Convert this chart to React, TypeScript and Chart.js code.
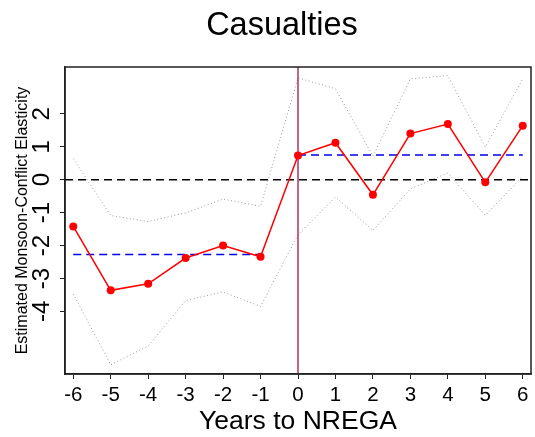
import React, { useEffect, useRef } from "react";
import { Chart, registerables } from "chart.js";

Chart.register(...registerables);

// event-study estimates, years relative to NREGA rollout
const years = [-6, -5, -4, -3, -2, -1, 0, 1, 2, 3, 4, 5, 6];
const estimates = [-1.42, -3.36, -3.16, -2.38, -2.0, -2.34, 0.73, 1.12, -0.46, 1.4, 1.69, -0.08, 1.64];
const upperCI = [0.64, -1.09, -1.27, -1.01, -0.59, -0.81, 3.09, 2.76, 0.71, 3.06, 3.16, 0.99, 3.06];
const lowerCI = [-3.47, -5.62, -5.05, -3.67, -3.41, -3.85, -1.67, -0.53, -1.54, -0.28, 0.2, -1.08, 0.1];

// average effect before / after
const preYears = [-6, -1];
const preMean = -2.27;
const postYears = [0, 6];
const postMean = 0.75;

const xTicks = years;
const yTicks = [-4, -3, -2, -1, 0, 1, 2];

const xRange = [-6.22, 6.22];
const yRange = [-5.9, 3.42];

const FONT = "'Liberation Sans', Arial, Helvetica, sans-serif";

const pts = (xs: number[], ys: number[]) => xs.map((x, i) => ({ x, y: ys[i] }));

// draws the R-style box, tick labels (y rotated), axis titles and main title
const baseRPlot = {
  id: "baseRPlot",
  afterDraw(chart: any) {
    const { ctx, chartArea } = chart;
    const x = chart.scales.x;
    const y = chart.scales.y;
    ctx.save();
    ctx.strokeStyle = "#222";
    ctx.lineWidth = 1.5;
    ctx.strokeRect(chartArea.left, chartArea.top, chartArea.right - chartArea.left, chartArea.bottom - chartArea.top);

    ctx.fillStyle = "#000";
    ctx.textAlign = "center";

    // x tick labels
    ctx.font = `20.5px ${FONT}`;
    ctx.textBaseline = "alphabetic";
    xTicks.forEach((v) => {
      ctx.fillText(String(v), x.getPixelForValue(v), 400.5);
    });

    // x title
    ctx.font = `26.5px ${FONT}`;
    ctx.fillText("Years to NREGA", (chartArea.left + chartArea.right) / 2, 428.5);

    // main title
    ctx.font = `32.5px ${FONT}`;
    ctx.fillText("Casualties", 282, 35);

    // y tick labels, rotated like R's las = 0
    ctx.font = `24px ${FONT}`;
    ctx.textBaseline = "middle";
    yTicks.forEach((v) => {
      ctx.save();
      ctx.translate(42, y.getPixelForValue(v));
      ctx.rotate(-Math.PI / 2);
      ctx.fillText(String(v), 0, 0);
      ctx.restore();
    });

    // y title
    ctx.font = `16px ${FONT}`;
    ctx.save();
    ctx.translate(22.5, (chartArea.top + chartArea.bottom) / 2);
    ctx.rotate(-Math.PI / 2);
    ctx.fillText("Estimated Monsoon-Conflict Elasticity", 0, 0);
    ctx.restore();

    ctx.restore();
  },
};

export default function App() {
  const canvasRef = useRef<HTMLCanvasElement>(null);

  useEffect(() => {
    if (!canvasRef.current) return;
    const chart = new Chart(canvasRef.current, {
      type: "line",
      data: {
        datasets: [
          {
            label: "estimate",
            data: pts(years, estimates),
            borderColor: "#ff0000",
            backgroundColor: "#ff0000",
            borderWidth: 1.5,
            pointRadius: 4,
            pointBorderWidth: 0,
          },
          {
            label: "break",
            data: [
              { x: 0, y: yRange[0] },
              { x: 0, y: yRange[1] },
            ],
            borderColor: "#b03060",
            borderWidth: 1.5,
            pointRadius: 0,
          },
          {
            label: "pre mean",
            data: preYears.map((x) => ({ x, y: preMean })),
            borderColor: "#0000ee",
            borderWidth: 1.5,
            borderDash: [8, 5],
            pointRadius: 0,
          },
          {
            label: "post mean",
            data: postYears.map((x) => ({ x, y: postMean })),
            borderColor: "#0000ee",
            borderWidth: 1.5,
            borderDash: [8, 5],
            pointRadius: 0,
          },
          {
            label: "zero",
            data: xRange.map((x) => ({ x, y: 0 })),
            borderColor: "#000",
            borderWidth: 1.5,
            borderDash: [8, 5],
            pointRadius: 0,
          },
          {
            label: "upper",
            data: pts(years, upperCI),
            borderColor: "#999",
            borderWidth: 1,
            borderDash: [1, 2.5],
            pointRadius: 0,
          },
          {
            label: "lower",
            data: pts(years, lowerCI),
            borderColor: "#999",
            borderWidth: 1,
            borderDash: [1, 2.5],
            pointRadius: 0,
          },
        ],
      },
      options: {
        responsive: false,
        animation: false,
        events: [],
        layout: { padding: { top: 67, right: 2, left: 0, bottom: 0 } },
        plugins: {
          legend: { display: false },
          tooltip: { enabled: false },
          title: { display: false },
        },
        scales: {
          x: {
            type: "linear",
            min: xRange[0],
            max: xRange[1],
            afterBuildTicks: (scale: any) => {
              scale.ticks = xTicks.map((v) => ({ value: v }));
            },
            afterFit: (scale: any) => {
              scale.height = 63;
            },
            grid: { drawOnChartArea: false, drawTicks: true, tickLength: 5, color: "#222" },
            border: { display: true, color: "#222", width: 1.5 },
            ticks: { display: false },
          },
          y: {
            type: "linear",
            min: yRange[0],
            max: yRange[1],
            afterBuildTicks: (scale: any) => {
              scale.ticks = yTicks.map((v) => ({ value: v }));
            },
            afterFit: (scale: any) => {
              scale.width = 65;
            },
            grid: { drawOnChartArea: false, drawTicks: true, tickLength: 5, color: "#222" },
            border: { display: true, color: "#222", width: 1.5 },
            ticks: { display: false },
          },
        },
      },
      plugins: [baseRPlot],
    });
    return () => chart.destroy();
  }, []);

  return (
    <div style={{ position: "absolute", left: 0, top: 0, width: 535, height: 437, background: "#fff" }}>
      <canvas ref={canvasRef} width={535} height={437} />
    </div>
  );
}
